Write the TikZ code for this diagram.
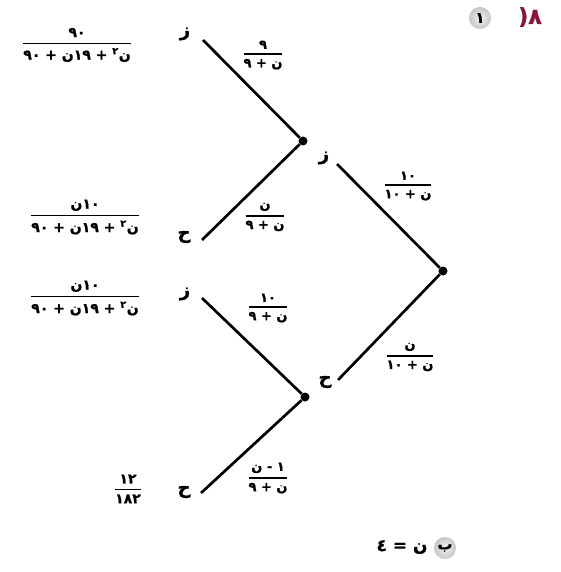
\documentclass[tikz,border=0pt]{standalone}
\usepackage{amsmath}
\usepackage{fontspec}
\TeXXeTstate=1
\newfontfamily\arf[Script=Arabic,BoldFeatures={FakeBold=1}]{DejaVu Sans}
\definecolor{maroon}{HTML}{8B1538}
\newcommand\afr[2]{$\genfrac{}{}{1.4pt}{0}{\hbox{\arf\bfseries #1}}{\hbox{\arf\bfseries #2}}$}
\newcommand\dena{\beginR ن\textsuperscript{٢} + \beginL١٩\endL ن + \beginL٩٠\endL\endR}
\begin{document}
\begin{tikzpicture}[x=1pt,y=-1pt,
  branch/.style={line width=2.7pt},
  dotn/.style={circle,fill=black,inner sep=0pt,minimum size=9pt},
  lbl/.style={font=\fontsize{18}{20}\selectfont\arf\bfseries,inner sep=0pt},
  frc/.style={font=\fontsize{13}{15}\selectfont,inner sep=0pt},
  res/.style={font=\fontsize{14}{16}\selectfont,inner sep=0pt},
  badge/.style={circle,inner sep=0pt,minimum size=22pt,inner color=gray!10,outer color=gray!45,font=\fontsize{15}{17}\selectfont\arf\bfseries}]
\useasboundingbox (0,0) rectangle (560,572);
% dots
\node[dotn] (r) at (443,271) {};
\node[dotn] (m1) at (303,141) {};
\node[dotn] (m2) at (305,397) {};
% letter labels
\node[lbl] (lz0) at (324,158) {\beginR ز\endR};
\node[lbl] (lh0) at (325,382) {\beginR ح\endR};
\node[lbl] (lz1) at (185,34) {\beginR ز\endR};
\node[lbl] (lh1) at (184,237) {\beginR ح\endR};
\node[lbl] (lz2) at (185,294) {\beginR ز\endR};
\node[lbl] (lh2) at (184,492) {\beginR ح\endR};
% branch ends
\coordinate (e0) at (337,164);
\coordinate (f0) at (338,380);
\coordinate (e1) at (203,40);
\coordinate (f1) at (202,240);
\coordinate (e2) at (202,298);
\coordinate (f2) at (201,493);
\draw[branch] (r) -- (e0);
\draw[branch] (r) -- (f0);
\draw[branch] (m1) -- (e1);
\draw[branch] (m1) -- (f1);
\draw[branch] (m2) -- (e2);
\draw[branch] (m2) -- (f2);
% branch probabilities
\node[frc] (p1) at (263,55) {\afr{\beginR ٩\endR}{\beginR ن + ٩\endR}};
\node[frc] (p2) at (265,217) {\afr{\beginR ن\endR}{\beginR ن + ٩\endR}};
\node[frc] (p0) at (408,186) {\afr{\beginR\beginL١٠\endL\endR}{\beginR ن + \beginL١٠\endL\endR}};
\node[frc] (q0) at (410,357) {\afr{\beginR ن\endR}{\beginR ن + \beginL١٠\endL\endR}};
\node[frc] (p3) at (268,308) {\afr{\beginR\beginL١٠\endL\endR}{\beginR ن + ٩\endR}};
\node[frc] (q3) at (268,478) {\afr{\beginR ١ - ن\endR}{\beginR ن + ٩\endR}};
% results
\node[res] (r1) at (77,45) {\afr{\beginR\beginL٩٠\endL\endR}{\dena}};
\node[res] (r2) at (85,217) {\afr{\beginR\beginL١٠\endL{}ن\endR}{\dena}};
\node[res] (r3) at (85,298) {\afr{\beginR\beginL١٠\endL{}ن\endR}{\dena}};
\node[res] (r4) at (128,489) {\afr{\beginR\beginL١٢\endL\endR}{\beginR\beginL١٨٢\endL\endR}};
% header
\node[badge] (ba) at (480,18) {١};
\node[font=\fontsize{22}{24}\selectfont\arf\bfseries,text=maroon,inner sep=0pt] (num) at (530,17) {\beginR ٨(\endR};
% part b
\node[badge] (bb) at (445,548) {\beginR ب\endR};
\node[font=\fontsize{17}{19}\selectfont\arf\bfseries,inner sep=0pt] (eq) at (402,547) {\beginR ن = ٤\endR};
\end{tikzpicture}
\end{document}
